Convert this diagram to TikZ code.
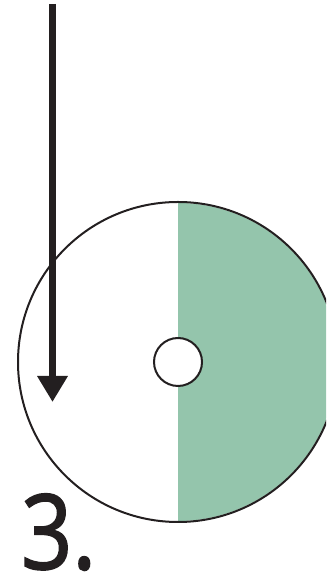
\documentclass[tikz,border=0pt]{standalone}
\usepackage{fontspec}
\setmainfont{Open Sans}
\newfontfamily\stepfont{Open Sans}[FakeStretch=0.86, FakeBold=1.6]
\usetikzlibrary{arrows.meta}
\definecolor{diskgreen}{RGB}{148,197,172}
\definecolor{inkgray}{RGB}{35,31,32}

\begin{document}
\begin{tikzpicture}[x=1pt, y=1pt,
  disc/.style={circle, draw=inkgray, line width=2pt, minimum size=320pt, inner sep=0pt},
  hub/.style={circle, draw=inkgray, line width=2pt, fill=white, minimum size=48pt, inner sep=0pt},
  arr/.style={-{Triangle[length=26pt, width=29pt]}, line width=7pt, draw=inkgray}
]
\useasboundingbox (0,0) rectangle (326,585);
\clip (0,0) rectangle (326,585);
\coordinate (c) at (178,223);
% right half of the disc
\begin{scope}
  \clip (c) circle[radius=159pt];
  \fill[diskgreen] (178,400) rectangle (340,40);
\end{scope}
\node[disc] (disc) at (c) {};
\node[hub] (hub) at (c) {};
% falling arrow
\coordinate (arrowtop) at (52.5,581);
\coordinate (arrowtip) at (52.5,183);
\draw[arr] (arrowtop) -- (arrowtip);
\node[anchor=base west, inner sep=0pt, text=inkgray,
  font=\stepfont\fontsize{104}{104}\selectfont] (stepno) at (21,16) {3.};
\end{tikzpicture}
\end{document}
